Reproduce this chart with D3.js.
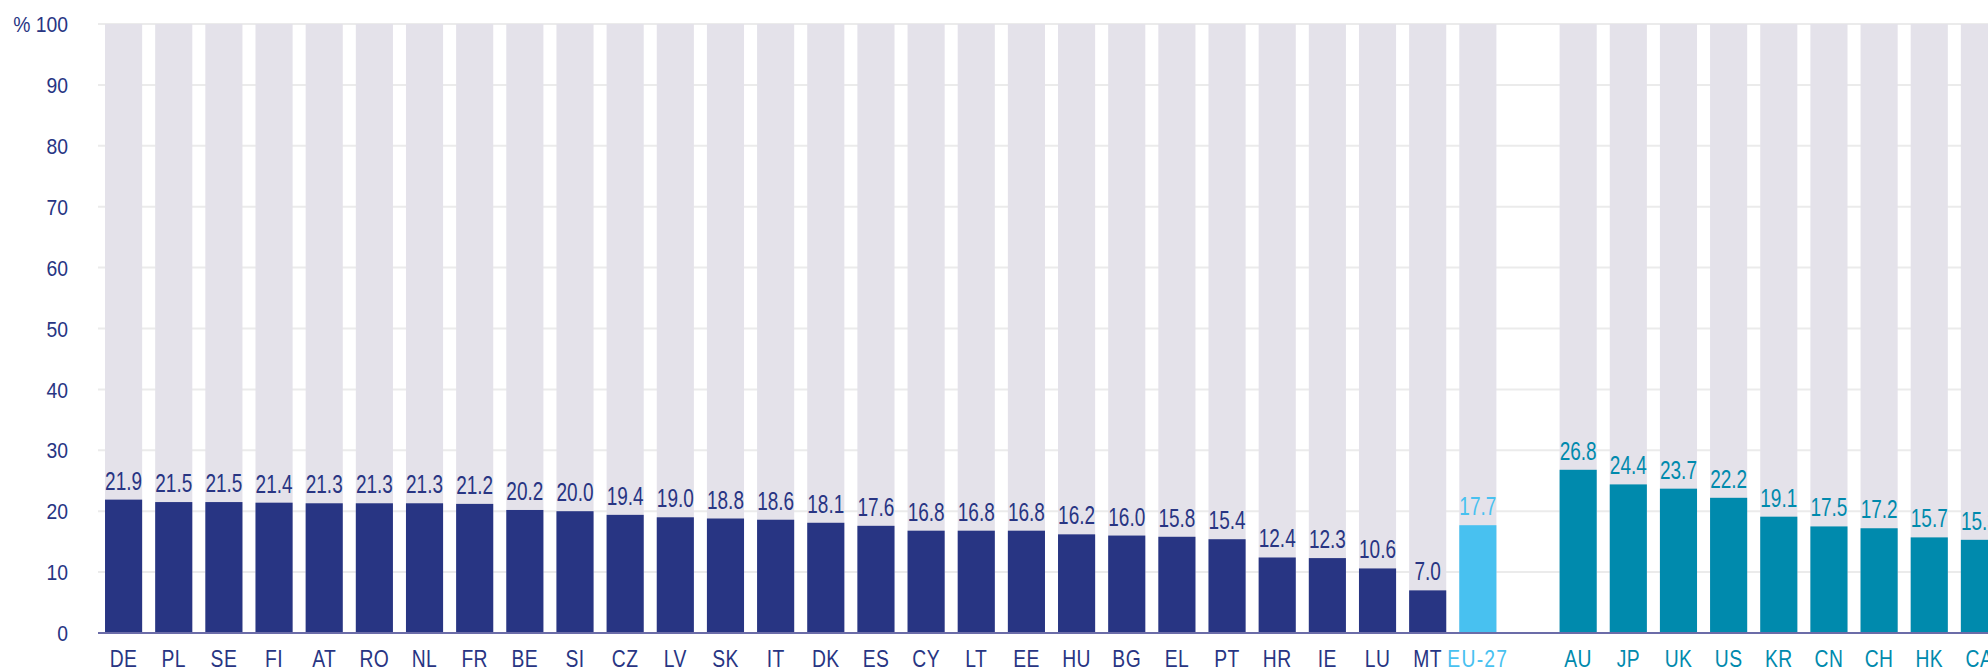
<!DOCTYPE html>
<html>
<head>
<meta charset="utf-8">
<script src="https://cdn.jsdelivr.net/npm/d3@7"></script>
<style>
  html, body { margin: 0; padding: 0; background: #ffffff; }
  svg { display: block; }
  text { font-family: "Liberation Sans", Arial, sans-serif; }
</style>
</head>
<body>
<svg id="chart" width="1988" height="671"></svg>
<script>
// EU member states, ranked by share
const euCodes  = ["DE","PL","SE","FI","AT","RO","NL","FR","BE","SI","CZ","LV","SK","IT","DK","ES","CY","LT","EE","HU","BG","EL","PT","HR","IE","LU","MT"];
const euValues = [21.9,21.5,21.5,21.4,21.3,21.3,21.3,21.2,20.2,20.0,19.4,19.0,18.8,18.6,18.1,17.6,16.8,16.8,16.8,16.2,16.0,15.8,15.4,12.4,12.3,10.6,7.0];

// EU aggregate
const aggCode  = "EU-27";
const aggValue = 17.7;

// Non-EU economies
const otherCodes  = ["AU","JP","UK","US","KR","CN","CH","HK","CA"];
const otherValues = [26.8,24.4,23.7,22.2,19.1,17.5,17.2,15.7,15.3];

// Value axis ticks
const yTicks = [0,10,20,30,40,50,60,70,80,90,100];

const colors = {
  eu: "#283583",
  agg: "#48c1f0",
  other: "#008aad",
  track: "#e4e2ea",
  grid: "#ebebeb",
  axis: "#6b6ca8"
};

const rows = [
  ...euCodes.map((c, i) => ({ code: c, value: euValues[i], group: "eu" })),
  { code: aggCode, value: aggValue, group: "agg" },
  ...otherCodes.map((c, i) => ({ code: c, value: otherValues[i], group: "other" }))
];
const spacer = "__gap__";
const domain = [...euCodes, aggCode, spacer, ...otherCodes];

const svg = d3.select("#chart");
const W = 1988;

const x = d3.scaleBand()
  .domain(domain)
  .range([98, 2005])
  .paddingInner(0.26)
  .paddingOuter(0.14);

const y = d3.scaleLinear().domain([0, 100]).range([633, 24]);

// condensed lettering: horizontal squeeze around the anchor point
const squeeze = (sel, sx, fx, fy) =>
  sel.attr("transform", d => `translate(${fx(d)},${fy(d)}) scale(${sx},1)`);

// horizontal gridlines
svg.append("g")
  .selectAll("line")
  .data(yTicks.filter(t => t > 0))
  .join("line")
  .attr("x1", 98).attr("x2", W)
  .attr("y1", d => y(d)).attr("y2", d => y(d))
  .attr("stroke", colors.grid)
  .attr("stroke-width", 2);

// tick labels
svg.append("g")
  .selectAll("text")
  .data(yTicks)
  .join("text")
  .call(squeeze, 0.86, () => 68, d => y(d))
  .attr("dy", "0.36em")
  .attr("text-anchor", "end")
  .attr("font-size", 22.5)
  .attr("fill", colors.eu)
  .text(d => d === 100 ? "% 100" : d);

// full-height background tracks
svg.append("g")
  .selectAll("rect")
  .data(rows)
  .join("rect")
  .attr("x", d => x(d.code))
  .attr("width", x.bandwidth())
  .attr("y", y(100))
  .attr("height", y(0) - y(100))
  .attr("fill", colors.track);

// value bars
svg.append("g")
  .selectAll("rect")
  .data(rows)
  .join("rect")
  .attr("x", d => x(d.code))
  .attr("width", x.bandwidth())
  .attr("y", d => y(d.value))
  .attr("height", d => y(0) - y(d.value))
  .attr("fill", d => colors[d.group]);

// value labels
svg.append("g")
  .selectAll("text")
  .data(rows)
  .join("text")
  .call(squeeze, 0.76, d => x(d.code) + x.bandwidth() / 2, d => y(d.value) - 10)
  .attr("text-anchor", "middle")
  .attr("font-size", 25)
  .attr("fill", d => colors[d.group])
  .text(d => d3.format(".1f")(d.value));

// baseline
svg.append("line")
  .attr("x1", 98).attr("x2", W)
  .attr("y1", y(0)).attr("y2", y(0))
  .attr("stroke", colors.axis)
  .attr("stroke-width", 2);

// category labels
svg.append("g")
  .selectAll("text")
  .data(rows)
  .join("text")
  .call(squeeze, 0.84, d => x(d.code) + x.bandwidth() / 2, () => 667)
  .attr("text-anchor", "middle")
  .attr("font-size", 23)
  .attr("letter-spacing", d => d.group === "agg" ? 1.5 : 0.5)
  .attr("fill", d => colors[d.group])
  .text(d => d.code);
</script>
</body>
</html>
